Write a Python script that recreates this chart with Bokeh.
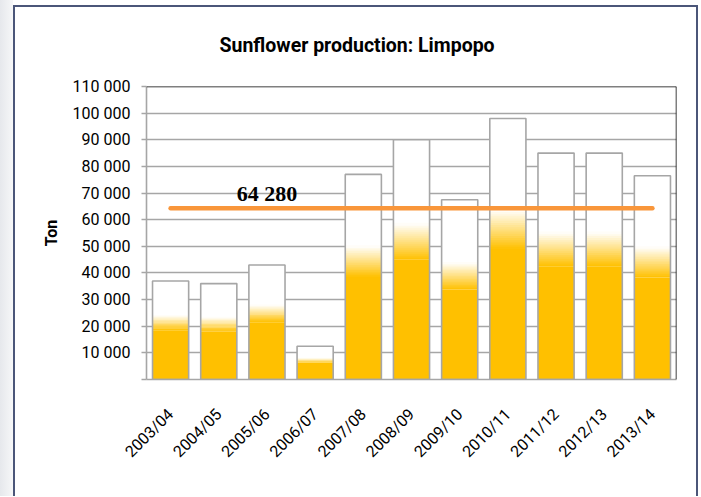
import math
from bokeh.plotting import figure
from bokeh.models import Range1d, FixedTicker, Span, Label, InlineStyleSheet
from bokeh.embed import file_html
from bokeh.resources import INLINE

# ---------------- data ----------------
seasons = ["2003/04", "2004/05", "2005/06", "2006/07", "2007/08", "2008/09",
           "2009/10", "2010/11", "2011/12", "2012/13", "2013/14"]
production = [37000, 36000, 43000, 12500, 77000, 90000, 67500, 98000, 85000, 85000, 76500]
average = 64280
average_label = "64 280"
y_ticks = [0, 10000, 20000, 30000, 40000, 50000, 60000, 70000, 80000, 90000, 100000, 110000]
y_tick_labels = ["", "10 000", "20 000", "30 000", "40 000", "50 000", "60 000",
                 "70 000", "80 000", "90 000", "100 000", "110 000"]
title_text = "Sunflower production: Limpopo"
y_label = "Ton"

# ---------------- style ----------------
ORANGE = (255, 192, 0)
GRAY = "#A6A6A6"
SANS = "Roboto"
W, H = 700, 496
ML, MR, MT, MB = 146, 24, 86, 117
FW, FH = W - ML - MR, H - MT - MB

p = figure(x_range=seasons, y_range=Range1d(0, y_ticks[-1]),
           width=W, height=H, output_backend="svg", toolbar_location=None,
           min_border_left=ML, min_border_right=MR, min_border_top=MT, min_border_bottom=MB)
p.outline_line_color = None
p.background_fill_color = "white"
p.border_fill_color = "white"

# title
p.title.text = title_text
p.title.align = "left"
p.title.offset = 73
p.title.standoff = 60
p.title.text_font = SANS
p.title.text_font_style = "bold"
p.title.text_font_size = "19.5px"
p.title.text_color = "black"

# outer frame and left shading via CSS on the host element
p.stylesheets = [InlineStyleSheet(css="""
:host { position: relative; }
:host::after { content: ""; position: absolute; left: 13px; top: 5px; right: 2px; bottom: 0px;
  border: 2.5px solid #4B5679; border-bottom: none; pointer-events: none; z-index: 10; }
:host::before { content: ""; position: absolute; left: 0px; top: 0px; width: 13px; bottom: 0px;
  background: linear-gradient(to right, #E6E8EC, #F6F7F8); pointer-events: none; z-index: 10; }
""")]

# grid
p.xgrid.grid_line_color = None
p.ygrid.ticker = FixedTicker(ticks=y_ticks)
p.ygrid.grid_line_color = GRAY
p.ygrid.grid_line_width = 1.6

# bars: white body, orange base, fade band, outline
BW = 0.75
p.vbar(x=seasons, top=production, bottom=0, width=BW, fill_color="white", line_color=None)
base_top = [v * 0.50 for v in production]
p.vbar(x=seasons, top=base_top, bottom=0, width=BW, fill_color="#FFC000", line_color=None)
N = 18
for j in range(N):
    t = (j + 0.5) / N
    r = int(round(ORANGE[0] + (255 - ORANGE[0]) * t))
    g = int(round(ORANGE[1] + (255 - ORANGE[1]) * t))
    b = int(round(ORANGE[2] + (255 - ORANGE[2]) * t))
    col = "#%02X%02X%02X" % (r, g, b)
    lo = [v * (0.50 + 0.15 * j / N) for v in production]
    hi = [v * (0.50 + 0.15 * (j + 1) / N) + 0.004 * v for v in production]
    p.vbar(x=seasons, top=hi, bottom=lo, width=BW, fill_color=col, line_color=None)
p.vbar(x=seasons, top=production, bottom=0, width=BW, fill_color=None,
       line_color=GRAY, line_width=1.6)

# average line
p.line(x=[seasons[0], seasons[-1]], y=[average, average], line_color="#F9963A",
       line_width=4.5, line_cap="round")
p.add_layout(Label(x=2.5, y=average, y_offset=15, text=average_label,
                   text_font="Liberation Serif", text_font_style="bold",
                   text_font_size="22px", text_align="center", text_baseline="alphabetic",
                   text_color="black"))

# frame top / right black border
p.add_layout(Span(location=y_ticks[-1], dimension="width", line_color="black", line_width=1.5))
p.add_layout(Span(location=len(seasons), dimension="height", line_color="black", line_width=1.5))

# axes
ya = p.yaxis[0]
ya.ticker = FixedTicker(ticks=y_ticks)
ya.major_label_overrides = {t: l for t, l in zip(y_ticks, y_tick_labels)}
ya.axis_line_color = GRAY
ya.axis_line_width = 1.6
ya.major_tick_line_color = GRAY
ya.major_tick_line_width = 1.6
ya.major_tick_in = 0
ya.major_tick_out = 5
ya.minor_tick_line_color = None
ya.major_label_standoff = 11
ya.major_label_text_font = SANS
ya.major_label_text_font_size = "16px"
ya.major_label_text_color = "black"
ya.axis_label = y_label
ya.axis_label_text_font = SANS
ya.axis_label_text_font_style = "bold"
ya.axis_label_text_font_size = "16px"
ya.axis_label_text_color = "black"
ya.axis_label_standoff = 9

xa = p.xaxis[0]
xa.axis_line_color = GRAY
xa.axis_line_width = 1.6
xa.major_tick_line_color = None
xa.major_tick_out = 0
xa.major_tick_in = 0
xa.major_label_orientation = math.pi / 4
xa.major_label_standoff = 32
xa.major_label_text_font = SANS
xa.major_label_text_font_size = "16px"
xa.major_label_text_color = "black"

open("out.html", "w").write(file_html(p, INLINE))
